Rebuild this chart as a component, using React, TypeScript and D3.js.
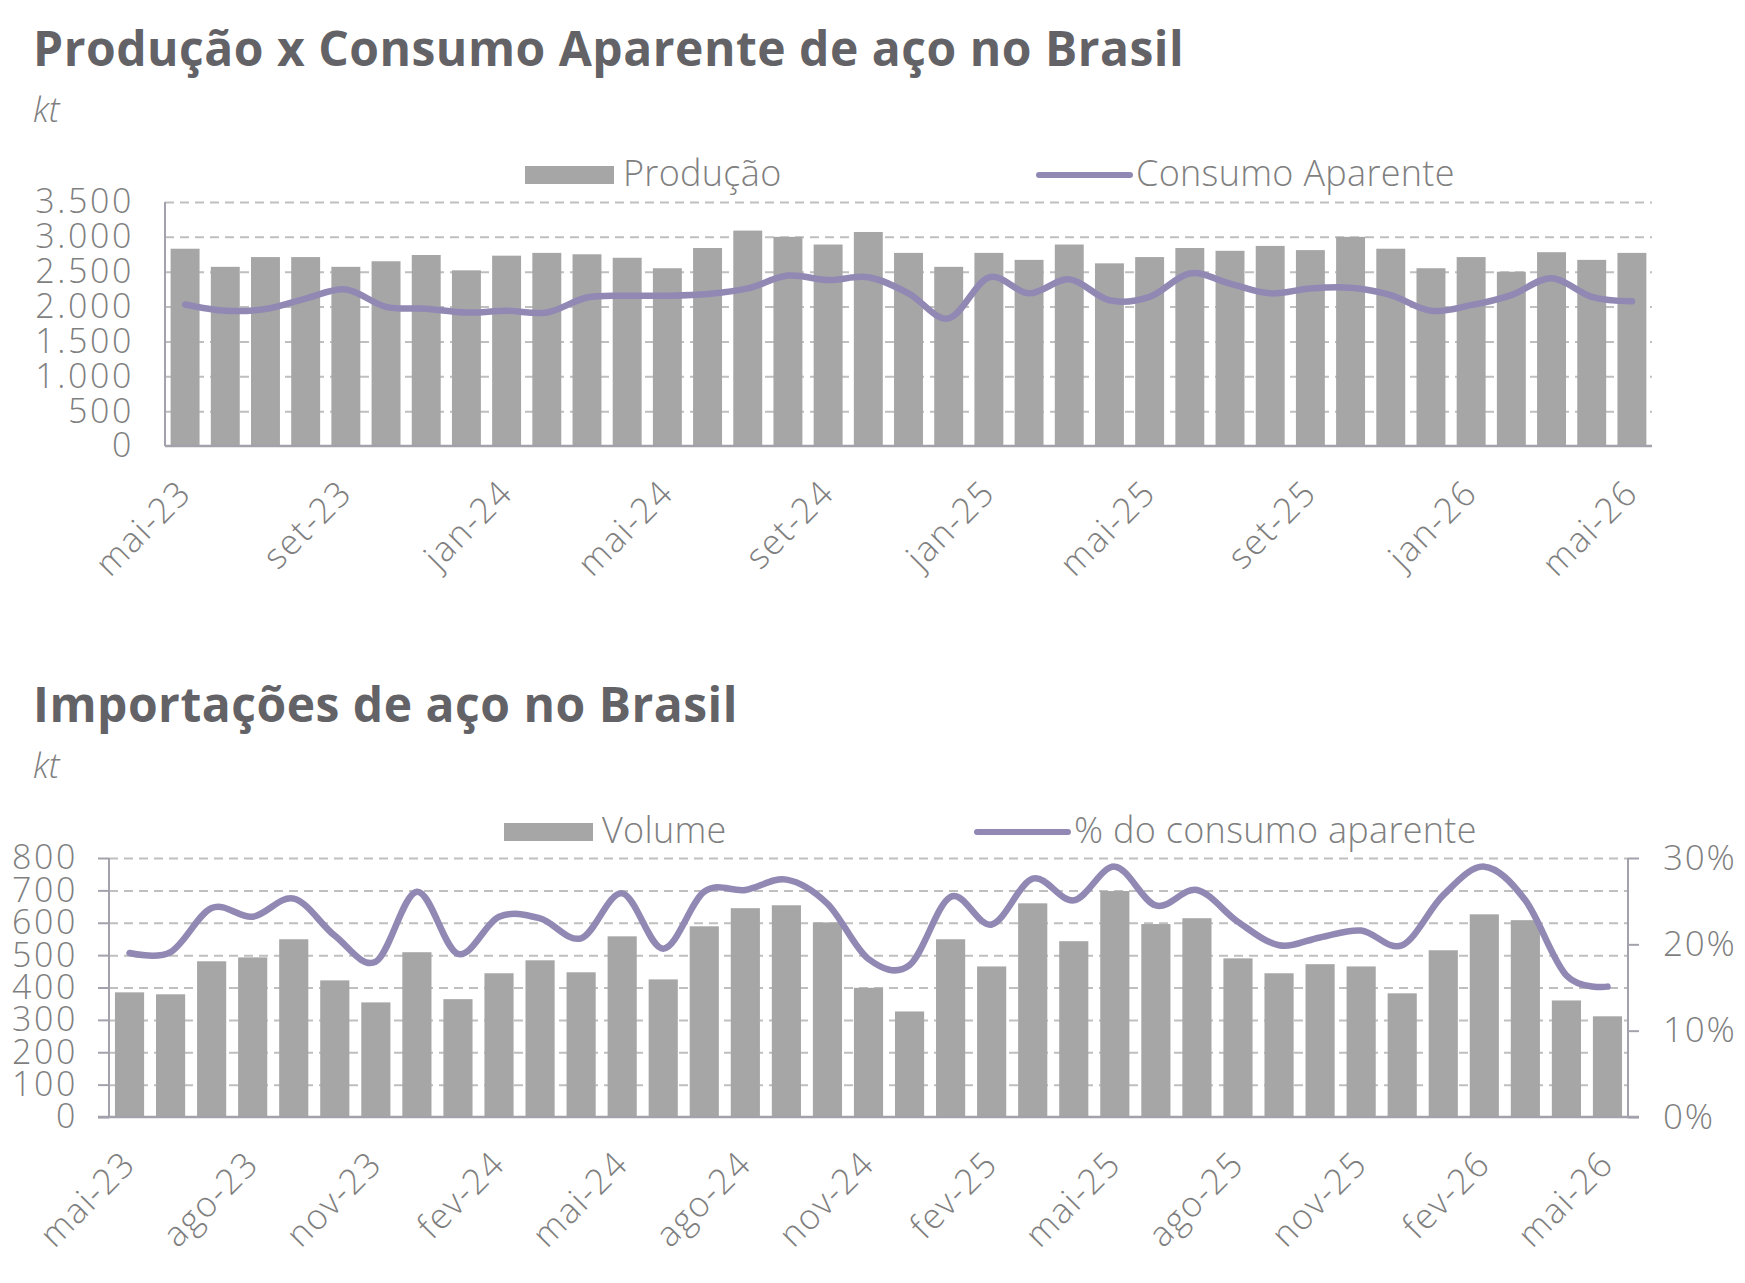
import React, { useRef, useEffect } from 'react';
import * as d3 from 'd3';

// months shared by both charts
const months = [
  'mai-23', 'jun-23', 'jul-23', 'ago-23', 'set-23', 'out-23', 'nov-23', 'dez-23',
  'jan-24', 'fev-24', 'mar-24', 'abr-24', 'mai-24', 'jun-24', 'jul-24', 'ago-24',
  'set-24', 'out-24', 'nov-24', 'dez-24', 'jan-25', 'fev-25', 'mar-25', 'abr-25',
  'mai-25', 'jun-25', 'jul-25', 'ago-25', 'set-25', 'out-25', 'nov-25', 'dez-25',
  'jan-26', 'fev-26', 'mar-26', 'abr-26', 'mai-26',
];

// chart 1 (kt)
const producao = [
  2830, 2570, 2710, 2710, 2570, 2650, 2740, 2520, 2730, 2770, 2750, 2700, 2550,
  2840, 3090, 3000, 2890, 3070, 2770, 2570, 2770, 2670, 2890, 2620, 2710, 2840,
  2800, 2870, 2810, 3000, 2830, 2550, 2710, 2500, 2780, 2670, 2770,
];
const consumoAparente = [
  2030, 1940, 1965, 2115, 2245, 1995, 1970, 1915, 1940, 1915, 2130, 2155, 2155,
  2180, 2260, 2445, 2380, 2420, 2190, 1830, 2420, 2190, 2390, 2090, 2140, 2475,
  2330, 2190, 2260, 2270, 2165, 1940, 2020, 2165, 2405, 2140, 2075,
];
const xTicksProducao = ['mai-23', 'set-23', 'jan-24', 'mai-24', 'set-24', 'jan-25', 'mai-25', 'set-25', 'jan-26', 'mai-26'];
const yTicksProducao = [0, 500, 1000, 1500, 2000, 2500, 3000, 3500];

// chart 2 (kt and share of apparent consumption)
const volumeImport = [
  385, 379, 481, 493, 549, 422, 354, 509, 364, 444, 484, 447, 558, 425, 589, 645,
  654, 601, 399, 326, 549, 465, 660, 543, 698, 596, 614, 490, 444, 472, 465, 382,
  515, 626, 608, 360, 311,
];
const pctConsumo = [
  0.190, 0.191, 0.242, 0.232, 0.253, 0.210, 0.180, 0.261, 0.189, 0.232, 0.230, 0.207,
  0.259, 0.195, 0.261, 0.263, 0.275, 0.247, 0.183, 0.176, 0.255, 0.223, 0.276, 0.251,
  0.290, 0.245, 0.263, 0.226, 0.199, 0.208, 0.216, 0.199, 0.257, 0.290, 0.251, 0.164,
  0.151,
];
const xTicksImport = ['mai-23', 'ago-23', 'nov-23', 'fev-24', 'mai-24', 'ago-24', 'nov-24', 'fev-25', 'mai-25', 'ago-25', 'nov-25', 'fev-26', 'mai-26'];
const yTicksVolume = [0, 100, 200, 300, 400, 500, 600, 700, 800];
const yTicksPct = [0, 0.1, 0.2, 0.3];

const FONT = "'Open Sans', 'Noto Sans', sans-serif";
const TEXT_GRAY = '#7f7f7f';
const TITLE_GRAY = '#636367';
const BAR = '#a6a6a6';
const LINE = '#9189b4';
const GRID = '#bfbfbf';
const AXIS = '#a3a1ab';

type Sel = d3.Selection<SVGSVGElement, unknown, null, undefined>;
interface Box { left: number; right: number; top: number; bottom: number; }

const styleText = (g: any, size = 35, spacing = 1.5) =>
  g.selectAll('text')
    .attr('font-family', FONT)
    .attr('font-size', size)
    .attr('font-weight', 300)
    .attr('letter-spacing', spacing)
    .attr('fill', TEXT_GRAY);

function heading(svg: Sel, text: string, y: number) {
  svg.append('text')
    .attr('x', 33).attr('y', y)
    .attr('font-family', FONT).attr('font-size', 48).attr('font-weight', 700)
    .attr('letter-spacing', 0.5)
    .attr('fill', TITLE_GRAY)
    .text(text);
  svg.append('text')
    .attr('x', 33).attr('y', y + 56)
    .attr('font-family', FONT).attr('font-size', 34).attr('font-weight', 300)
    .attr('font-style', 'italic').attr('fill', TEXT_GRAY)
    .text('kt');
}

function grid(svg: Sel, y: d3.ScaleLinear<number, number>, ticks: number[], box: Box) {
  svg.append('g')
    .attr('transform', `translate(${box.left},0)`)
    .call(d3.axisLeft(y).tickValues(ticks.filter(t => t > 0)).tickSize(-(box.right - box.left)).tickFormat(() => ''))
    .call(g => g.select('.domain').remove())
    .call(g => g.selectAll('line').attr('stroke', GRID).attr('stroke-width', 2).attr('stroke-dasharray', '9,6'));
}

function xAxis(svg: Sel, x: d3.ScaleBand<string>, ticks: string[], box: Box) {
  svg.append('g')
    .attr('transform', `translate(0,${box.bottom})`)
    .call(d3.axisBottom(x).tickValues(ticks).tickSize(0))
    .call(g => g.select('.domain').remove())
    .call(g => styleText(g, 35, 1.5)
      .attr('x', 0).attr('y', 0).attr('dy', 0)
      .attr('text-anchor', 'end')
      .attr('transform', 'translate(8,49) rotate(-45)'));
}

function legend(g: any, y: number, barX: number, barLabel: string, lineX: number, lineLabel: string) {
  g.append('rect')
    .attr('x', barX).attr('y', y - 9).attr('width', 89).attr('height', 18)
    .attr('fill', BAR);
  g.append('text')
    .attr('x', barX + 98).attr('y', y + 11)
    .text(barLabel);
  g.append('line')
    .attr('x1', lineX).attr('x2', lineX + 91).attr('y1', y).attr('y2', y)
    .attr('stroke', LINE).attr('stroke-width', 6).attr('stroke-linecap', 'round');
  g.append('text')
    .attr('x', lineX + 97).attr('y', y + 11)
    .text(lineLabel);
  styleText(g, 36, 0.3);
}

const App: React.FC = () => {
  const svgRef = useRef<SVGSVGElement | null>(null);

  useEffect(() => {
    if (!svgRef.current) return;
    const svg = d3.select(svgRef.current);
    svg.selectAll('*').remove();

    const locale = d3.formatLocale({ decimal: ',', thousands: '.', grouping: [3], currency: ['R$', ''] });
    const fmtKt = locale.format(',.0f');
    const fmtPct = d3.format('.0%');
    const smooth = d3.curveCardinal.tension(0);

    // ---------- Produção x Consumo Aparente ----------
    const b1: Box = { left: 165, right: 1652, top: 202, bottom: 446 };
    const x1 = d3.scaleBand<string>().domain(months).range([b1.left, b1.right]).paddingInner(0.28).paddingOuter(0.14);
    const y1 = d3.scaleLinear().domain([0, 3500]).range([b1.bottom, b1.top]);

    heading(svg, 'Produção x Consumo Aparente de aço no Brasil', 66);
    grid(svg, y1, yTicksProducao, b1);

    svg.append('g').selectAll('rect')
      .data(producao)
      .join('rect')
      .attr('x', (_, i) => x1(months[i]) as number)
      .attr('y', d => y1(d))
      .attr('width', x1.bandwidth())
      .attr('height', d => y1(0) - y1(d))
      .attr('fill', BAR);

    svg.append('path')
      .datum(consumoAparente)
      .attr('fill', 'none')
      .attr('stroke', LINE)
      .attr('stroke-width', 6.5)
      .attr('stroke-linecap', 'round')
      .attr('stroke-linejoin', 'round')
      .attr('d', d3.line<number>()
        .x((_, i) => (x1(months[i]) as number) + x1.bandwidth() / 2)
        .y(d => y1(d))
        .curve(smooth));

    svg.append('g')
      .attr('transform', `translate(${b1.left},0)`)
      .call(d3.axisLeft(y1).tickValues(yTicksProducao).tickSize(0).tickPadding(31).tickFormat(d => fmtKt(d as number)))
      .call(g => g.select('.domain').remove())
      .call(g => styleText(g, 34, 2.6));

    svg.append('line')
      .attr('x1', b1.left).attr('x2', b1.left).attr('y1', b1.top).attr('y2', b1.bottom)
      .attr('stroke', AXIS).attr('stroke-width', 2);
    svg.append('line')
      .attr('x1', b1.left).attr('x2', b1.right).attr('y1', b1.bottom).attr('y2', b1.bottom)
      .attr('stroke', AXIS).attr('stroke-width', 2.5);

    xAxis(svg, x1, xTicksProducao, b1);

    legend(svg.append('g'), 175, 525, 'Produção', 1039, 'Consumo Aparente');

    // ---------- Importações ----------
    const b2: Box = { left: 109, right: 1628, top: 858, bottom: 1117 };
    const x2 = d3.scaleBand<string>().domain(months).range([b2.left, b2.right]).paddingInner(0.29).paddingOuter(0.145);
    const y2 = d3.scaleLinear().domain([0, 800]).range([b2.bottom, b2.top]);
    const y2r = d3.scaleLinear().domain([0, 0.3]).range([b2.bottom, b2.top]);

    heading(svg, 'Importações de aço no Brasil', 722);
    grid(svg, y2, yTicksVolume, b2);

    svg.append('g').selectAll('rect')
      .data(volumeImport)
      .join('rect')
      .attr('x', (_, i) => x2(months[i]) as number)
      .attr('y', d => y2(d))
      .attr('width', x2.bandwidth())
      .attr('height', d => y2(0) - y2(d))
      .attr('fill', BAR);

    svg.append('path')
      .datum(pctConsumo)
      .attr('fill', 'none')
      .attr('stroke', LINE)
      .attr('stroke-width', 6.5)
      .attr('stroke-linecap', 'round')
      .attr('stroke-linejoin', 'round')
      .attr('d', d3.line<number>()
        .x((_, i) => (x2(months[i]) as number) + x2.bandwidth() / 2)
        .y(d => y2r(d))
        .curve(smooth));

    svg.append('g')
      .attr('transform', `translate(${b2.left},0)`)
      .call(d3.axisLeft(y2).tickValues(yTicksVolume).tickSize(11).tickPadding(20).tickFormat(d => String(d)))
      .call(g => g.select('.domain').remove())
      .call(g => g.selectAll('line').attr('stroke', AXIS).attr('stroke-width', 2))
      .call(g => styleText(g, 34, 2.6));

    svg.append('g')
      .attr('transform', `translate(${b2.right},0)`)
      .call(d3.axisRight(y2r).tickValues(yTicksPct).tickSize(11).tickPadding(24).tickFormat(d => fmtPct(d as number)))
      .call(g => g.select('.domain').remove())
      .call(g => g.selectAll('line').attr('stroke', AXIS).attr('stroke-width', 2))
      .call(g => styleText(g, 35, 1.8));

    svg.append('line')
      .attr('x1', b2.left).attr('x2', b2.left).attr('y1', b2.top).attr('y2', b2.bottom)
      .attr('stroke', AXIS).attr('stroke-width', 2);
    svg.append('line')
      .attr('x1', b2.right).attr('x2', b2.right).attr('y1', b2.top).attr('y2', b2.bottom)
      .attr('stroke', AXIS).attr('stroke-width', 2);
    svg.append('line')
      .attr('x1', b2.left - 11).attr('x2', b2.right + 11).attr('y1', b2.bottom).attr('y2', b2.bottom)
      .attr('stroke', AXIS).attr('stroke-width', 2.5);

    xAxis(svg, x2, xTicksImport, b2);

    legend(svg.append('g'), 832, 504, 'Volume', 977, '% do consumo aparente');
  }, []);

  return (
    <div style={{ position: 'absolute', left: 0, top: 0, background: '#fff' }}>
      <svg ref={svgRef} width={1745} height={1283} style={{ display: 'block' }}></svg>
    </div>
  );
};

export default App;
